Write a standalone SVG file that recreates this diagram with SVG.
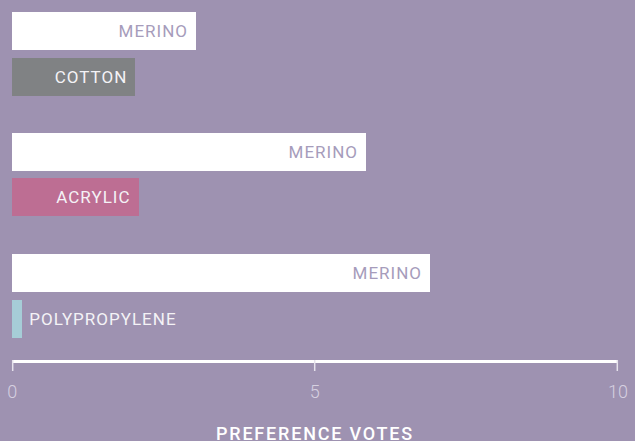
<svg xmlns="http://www.w3.org/2000/svg" width="635" height="441" viewBox="0 0 635 441">
<style>
.lbl{font-family:Roboto,"DejaVu Sans",sans-serif;font-size:17px;letter-spacing:1px}
.in{fill:#a69cbb}
.wt{fill:#f4f2f6}
.tick{font-family:Roboto,"DejaVu Sans",sans-serif;font-size:18px;font-weight:300;fill:#d6d0e0}
.axt{font-family:Roboto,"DejaVu Sans",sans-serif;font-size:18px;font-weight:500;fill:#ffffff;letter-spacing:1.8px}
</style>
<rect width="635" height="441" fill="#9e92b1"/>
<g id="merino-1"><rect x="12" y="12" width="184" height="38" fill="#ffffff"/><text class="lbl in" x="188" y="37.3" text-anchor="end">MERINO</text></g>
<g id="cotton"><rect x="12" y="58" width="123" height="38" fill="#808284"/><text class="lbl wt" x="127.3" y="83.3" text-anchor="end">COTTON</text></g>
<g id="merino-2"><rect x="12" y="133" width="354" height="38" fill="#ffffff"/><text class="lbl in" x="358" y="158.3" text-anchor="end">MERINO</text></g>
<g id="acrylic"><rect x="12" y="178" width="127" height="38" fill="#bd6e93"/><text class="lbl wt" x="130.5" y="203.3" text-anchor="end">ACRYLIC</text></g>
<g id="merino-3"><rect x="12" y="254" width="418" height="38" fill="#ffffff"/><text class="lbl in" x="422" y="279.3" text-anchor="end">MERINO</text></g>
<g id="polypropylene"><rect x="12" y="300" width="10" height="38" fill="#a6cdd7"/><text class="lbl wt" x="29.3" y="325.3">POLYPROPYLENE</text></g>
<g id="axis">
<line x1="12" y1="361.5" x2="618" y2="361.5" stroke="#ffffff" stroke-width="3"/>
<line x1="12.7" y1="360" x2="12.7" y2="371" stroke="#e6e2ec" stroke-width="1.5"/>
<line x1="314.7" y1="360" x2="314.7" y2="371" stroke="#e6e2ec" stroke-width="1.5"/>
<line x1="617.3" y1="360" x2="617.3" y2="371" stroke="#e6e2ec" stroke-width="1.5"/>
<text class="tick" x="12.3" y="397.5" text-anchor="middle">0</text>
<text class="tick" x="314.7" y="397.5" text-anchor="middle">5</text>
<text class="tick" x="618" y="397.5" text-anchor="middle">10</text>
<text class="axt" x="315" y="440" text-anchor="middle">PREFERENCE VOTES</text>
</g>
</svg>
